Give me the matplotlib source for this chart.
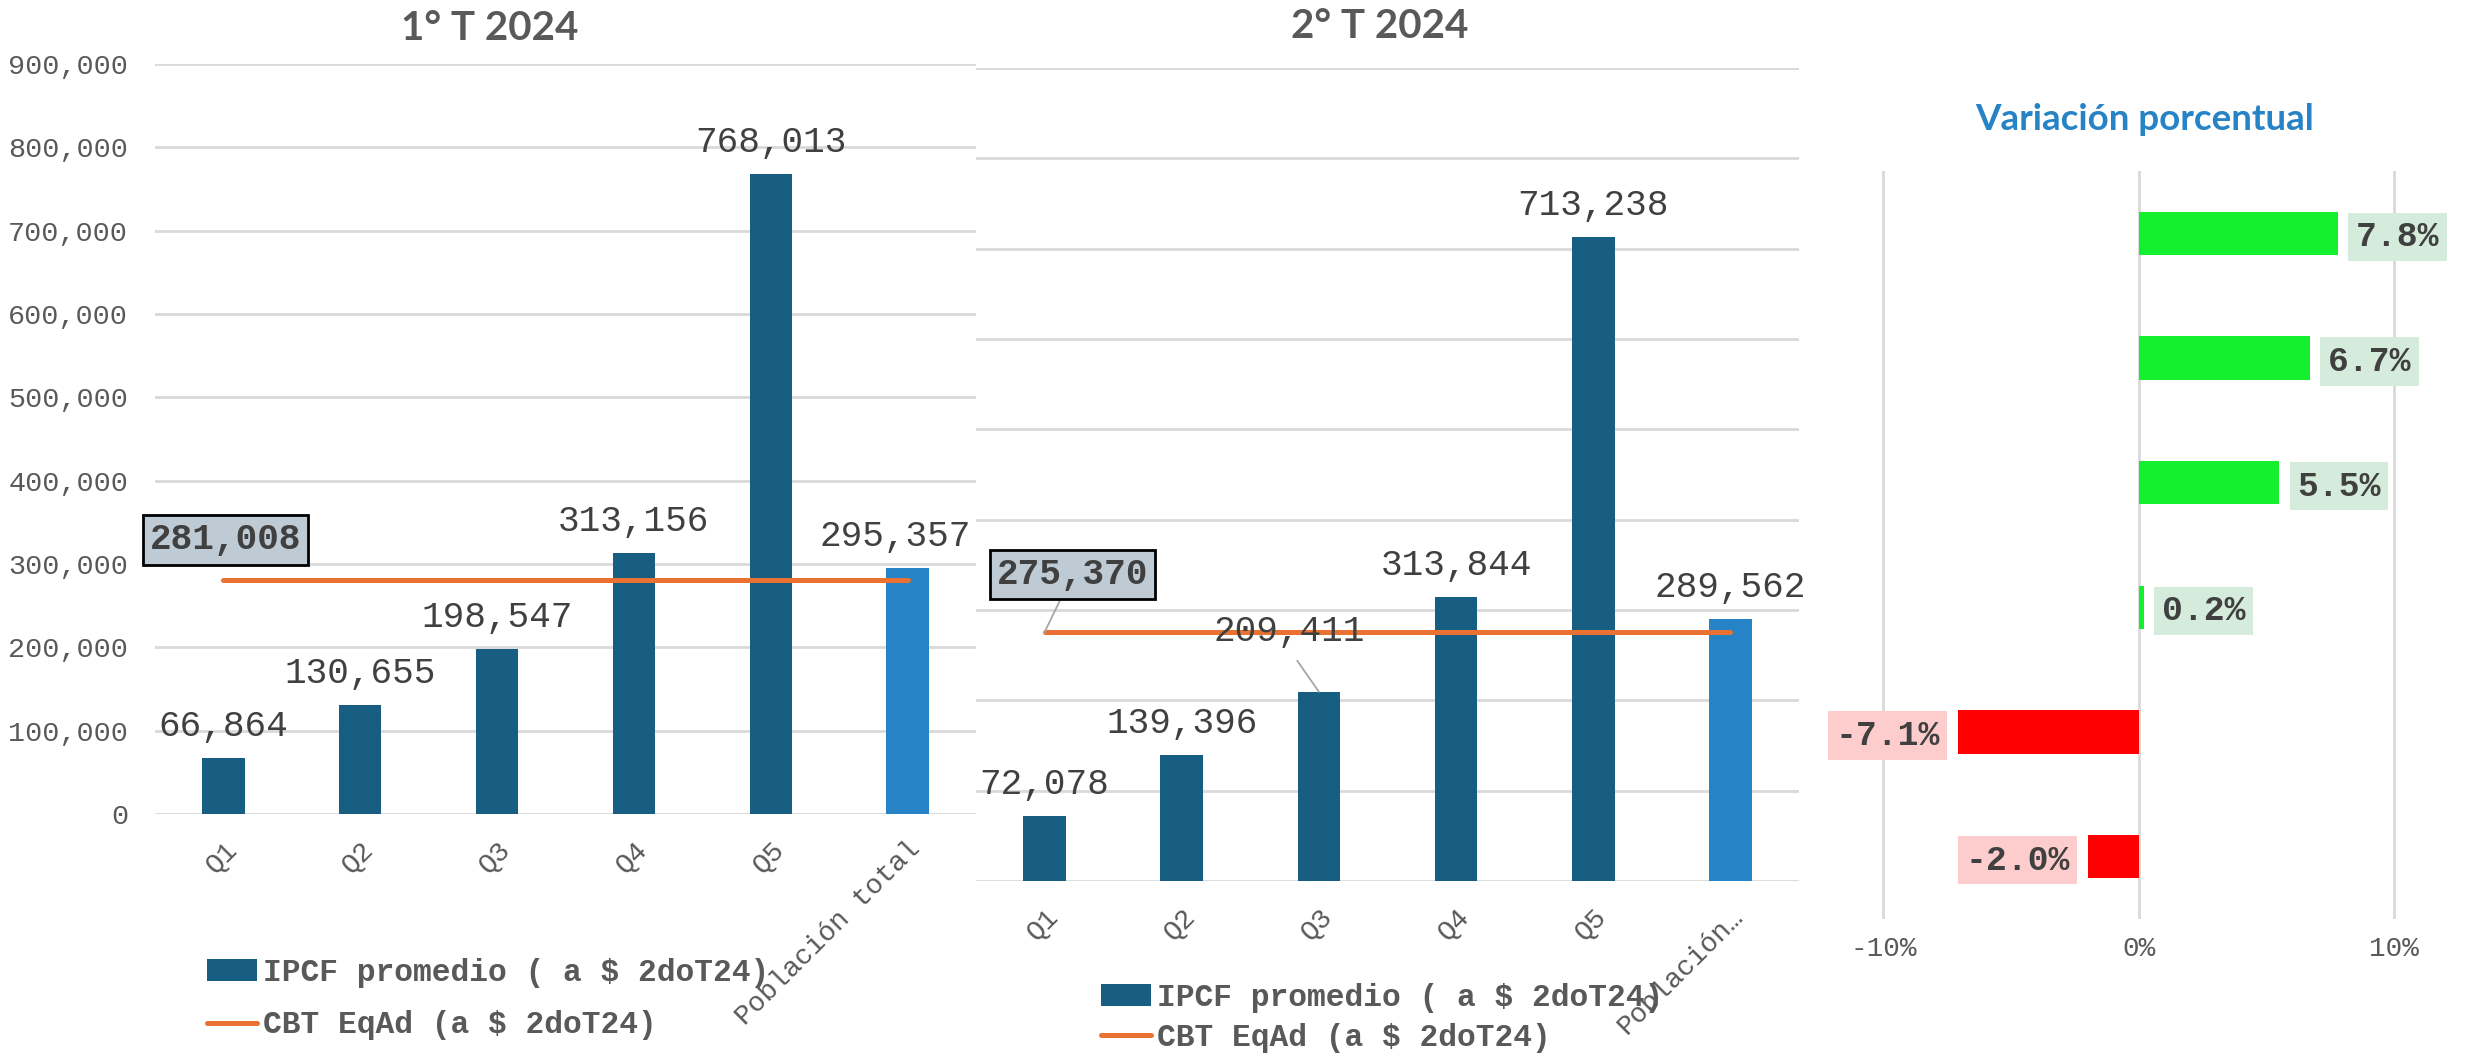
import matplotlib
matplotlib.use('Agg')
import matplotlib.pyplot as plt
from matplotlib.ticker import MultipleLocator, FuncFormatter

# data
categories_t1 = ['Q1', 'Q2', 'Q3', 'Q4', 'Q5', 'Población total']
categories_t2 = ['Q1', 'Q2', 'Q3', 'Q4', 'Q5', 'Población…']
ipcf_t1 = [66864, 130655, 198547, 313156, 768013, 295357]
ipcf_t2 = [72078, 139396, 209411, 313844, 713238, 289562]
cbt_t1 = 281008
cbt_t2 = 275370
variacion = [7.8, 6.7, 5.5, 0.2, -7.1, -2.0]

DARK = '#175E82'
LIGHT = '#2683C6'
ORANGE = '#E97132'
GRID = '#D9D9D9'
TXT = '#404040'
TICK = '#595959'
GREEN = '#13F02D'
RED = '#FF0000'
MONO = 'Liberation Mono'

W, H = 2466, 1053
fig = plt.figure(figsize=(W / 100, H / 100), dpi=100)


def px_box(l, t, r, b):
    """ pixel box (from top-left) -> figure fraction rect """
    return [l / W, 1 - b / H, (r - l) / W, (b - t) / H]


def pt(px):
    return px * 72 / 100


def quarter_panel(ax, labels, values, cbt):
    """ bars of IPCF by quintile plus the CBT line """
    x = list(range(len(values)))
    colors = [DARK] * (len(values) - 1) + [LIGHT]
    bars = ax.bar(x, values, width=0.31, color=colors, zorder=3,
                  label='IPCF promedio ( a $ 2doT24)')
    line, = ax.plot([x[0], x[-1]], [cbt, cbt], color=ORANGE, lw=3.6,
                    solid_capstyle='round', zorder=4, label='CBT EqAd (a $ 2doT24)')
    ax.set_xlim(-0.5, len(values) - 0.5)
    ax.set_ylim(0, 900000)
    ax.yaxis.set_major_locator(MultipleLocator(100000))
    ax.yaxis.set_major_formatter(FuncFormatter(lambda v, p: f'{v:,.0f}'))
    ax.grid(axis='y', color=GRID, lw=2, zorder=0)
    for s in ax.spines.values():
        s.set_visible(False)
    ax.set_xticks(x)
    ax.set_xticklabels(labels, rotation=45, ha='right', va='top',
                       rotation_mode='anchor', fontsize=20, color=TICK,
                       family=MONO)
    ax.tick_params(axis='both', length=0)
    ax.tick_params(axis='x', pad=pt(22))
    ax.tick_params(axis='y', pad=pt(27), labelsize=20.5, labelcolor=TICK)
    for lab in ax.get_yticklabels():
        lab.set_family(MONO)
    return x, [bars, line]


ax1 = fig.add_axes(px_box(155, 64, 976, 814))
ax2 = fig.add_axes(px_box(976, 68, 1799, 881))
ax3 = fig.add_axes(px_box(1812, 171, 2458, 919))

# ---- 1° T 2024
x1, handles1 = quarter_panel(ax1, categories_t1, ipcf_t1, cbt_t1)
for i, v in zip(x1, ipcf_t1):
    dx = -12 if i == x1[-1] else 0
    ax1.annotate(f'{v:,}', (i, v), xytext=(pt(dx), pt(22)),
                 textcoords='offset points', ha='center', va='baseline',
                 fontsize=26, family=MONO, color=TXT, zorder=6)
ax1.annotate(f'{cbt_t1:,}', (x1[0], cbt_t1), xytext=(pt(2), pt(40)),
             textcoords='offset points', ha='center', va='center',
             fontsize=26, family=MONO, weight='bold', color=TXT, zorder=7,
             bbox=dict(boxstyle='square,pad=0.2', fc='#BFCBD4', ec='black', lw=2))

# ---- 2° T 2024
x2, handles2 = quarter_panel(ax2, categories_t2, ipcf_t2, cbt_t2)
ax2.set_yticklabels([])
for i, v in zip(x2, ipcf_t2):
    if i == 2:
        ax2.annotate(f'{v:,}', (i, v), xytext=(pt(-30), pt(51)),
                     textcoords='offset points', ha='center', va='baseline',
                     fontsize=26, family=MONO, color=TXT, zorder=6,
                     arrowprops=dict(arrowstyle='-', color='#A6A6A6', lw=1.3,
                                     relpos=(0.5, 0), shrinkA=8, shrinkB=0))
    else:
        ax2.annotate(f'{v:,}', (i, v), xytext=(0, pt(22)),
                     textcoords='offset points', ha='center', va='baseline',
                     fontsize=26, family=MONO, color=TXT, zorder=6)
ax2.annotate(f'{cbt_t2:,}', (x2[0], cbt_t2), xytext=(pt(28), pt(58)),
             textcoords='offset points', ha='center', va='center',
             fontsize=26, family=MONO, weight='bold', color=TXT, zorder=7,
             bbox=dict(boxstyle='square,pad=0.2', fc='#BFCBD4', ec='black', lw=2),
             arrowprops=dict(arrowstyle='-', color='#A6A6A6', lw=1.3,
                             shrinkA=0, shrinkB=0))

# legends (bars first, then the line)
legend_font = dict(family=MONO, weight='bold', size=22.5)
ax1.legend(handles=handles1, loc='upper left',
           bbox_to_anchor=(207 / W, 1 - 958 / H),
           bbox_transform=fig.transFigure, frameon=False, prop=legend_font,
           labelcolor=TICK, handlelength=1.6, handletextpad=0.2,
           borderpad=0, borderaxespad=0, labelspacing=0.72)
ax2.legend(handles=handles2, loc='upper left',
           bbox_to_anchor=(1101 / W, 1 - 983 / H),
           bbox_transform=fig.transFigure, frameon=False, prop=legend_font,
           labelcolor=TICK, handlelength=1.6, handletextpad=0.2,
           borderpad=0, borderaxespad=0, labelspacing=0.32)

# ---- Variación porcentual
y3 = list(range(len(variacion)))
ax3.barh(y3, variacion, height=0.35,
         color=[GREEN if v >= 0 else RED for v in variacion], zorder=3)
ax3.set_ylim(len(variacion) - 0.5, -0.5)
ax3.set_xlim(-12.8, 12.5)
ax3.set_xticks([-10, 0, 10])
ax3.xaxis.set_major_formatter(FuncFormatter(lambda v, p: f'{int(round(v))}%'))
ax3.set_yticks([])
ax3.grid(axis='x', color=GRID, lw=2, zorder=0)
for s in ax3.spines.values():
    s.set_visible(False)
ax3.tick_params(axis='x', length=0, pad=pt(17), labelsize=20, labelcolor=TICK)
for lab in ax3.get_xticklabels():
    lab.set_family(MONO)
for i, v in zip(y3, variacion):
    pos = v >= 0
    ax3.annotate(f'{v:.1f}%', (v, i), xytext=(pt(18) if pos else pt(-18), 0),
                 textcoords='offset points', ha='left' if pos else 'right',
                 va='center_baseline', fontsize=25, family=MONO, weight='bold',
                 color=TXT, zorder=6,
                 bbox=dict(boxstyle='square,pad=0.22',
                           fc='#D5EBDC' if pos else '#FDCCCC', ec='none'))

# titles
fig.text(490 / W, 1 - 28 / H, '1° T 2024', ha='center', va='center',
         family='Lato', weight='bold', fontsize=29, color=TICK)
fig.text(1380 / W, 1 - 26 / H, '2° T 2024', ha='center', va='center',
         family='Lato', weight='bold', fontsize=29, color=TICK)
fig.text(2145 / W, 1 - 119 / H, 'Variación porcentual', ha='center',
         va='center', family='Lato', weight='bold', fontsize=26.5, color=LIGHT)

fig.savefig('out.png', dpi=100)
